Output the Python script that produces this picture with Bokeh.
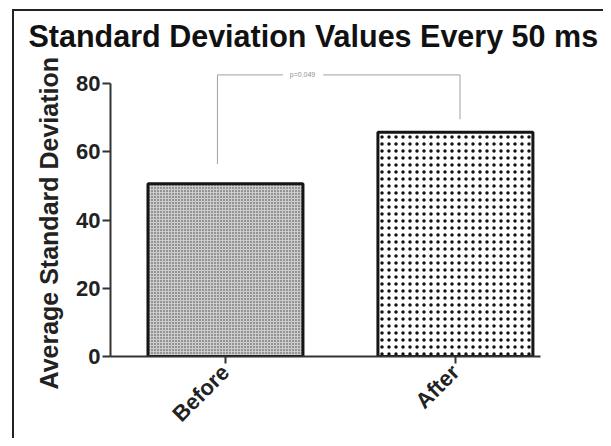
import math
from bokeh.plotting import figure
from bokeh.models import ColumnDataSource, FixedTicker, Range1d, Label, Title
from bokeh.embed import file_html
from bokeh.resources import INLINE

# ---- data ----
categories = ["Before", "After"]
values = [50.7, 65.8]
y_ticks = [0, 20, 40, 60, 80]
title_text = "Standard Deviation Values Every 50 ms"
y_label_text = "Average Standard Deviation"
p_text = "p=0.049"
bracket_heights = [56.5, 82.6, 69.6]   # left foot, top, right foot

FONT = "Liberation Sans"

xs = list(range(len(categories)))

p = figure(width=603, height=438, output_backend="svg", toolbar_location=None,
           x_range=Range1d(-0.5, 1.37), y_range=Range1d(0, 88),
           min_border_left=110, min_border_right=63, min_border_top=56, min_border_bottom=78)
p.outline_line_color = None
p.xgrid.visible = False
p.ygrid.visible = False
p.background_fill_color = "white"
p.border_fill_color = None
p.styles = {
    "background": "linear-gradient(#222,#222) 12px 9px / 1200px 2px no-repeat, "
                  "linear-gradient(#222,#222) 12px 9px / 2px 1200px no-repeat, white"
}

p.vbar(x=[xs[0]], top=[values[0]], width=0.674, fill_color="#cccccc", hatch_pattern=".",
       hatch_color="#404040", hatch_scale=3, hatch_weight=1, line_color="#151515", line_width=3)
p.vbar(x=[xs[1]], top=[values[1]], width=0.674, fill_color="white", hatch_pattern=".",
       hatch_color="#111111", hatch_scale=7, hatch_weight=3, line_color="#151515", line_width=3)

# significance bracket
xl = xs[0] - 0.035
xr = xs[1] + 0.02
xt = xs[0] + 0.335
src_b = ColumnDataSource(dict(
    x0=[xl, xl, xt + 0.09, xr],
    y0=[bracket_heights[0], bracket_heights[1], bracket_heights[1], bracket_heights[1]],
    x1=[xl, xt - 0.085, xr, xr],
    y1=[bracket_heights[1], bracket_heights[1], bracket_heights[1], bracket_heights[2]],
))
p.segment(x0="x0", y0="y0", x1="x1", y1="y1", source=src_b, line_color="#a0a0a0", line_width=1)
p.add_layout(Label(x=xt, y=bracket_heights[1], text=p_text, text_align="center",
                   text_baseline="middle", text_font=FONT, text_font_size="7px",
                   text_color="#909090"))

# title
p.title.text = title_text
p.title.align = "left"
p.title.offset = -82
p.title.standoff = 7
p.title.text_font = FONT
p.title.text_font_style = "bold"
p.title.text_font_size = "30.5px"
p.title.text_color = "#111111"

# axes
for ax in (p.xaxis[0], p.yaxis[0]):
    ax.axis_line_width = 2
    ax.axis_line_color = "#333333"
    ax.major_tick_line_width = 2
    ax.major_tick_line_color = "#333333"
    ax.minor_tick_line_color = None
    ax.major_tick_in = 0
    ax.major_label_text_font = FONT
    ax.major_label_text_font_style = "bold"
    ax.major_label_text_color = "#222222"
p.yaxis.ticker = FixedTicker(ticks=y_ticks)
p.yaxis.bounds = (y_ticks[0], y_ticks[-1])
p.yaxis.major_tick_out = 8
p.yaxis.major_label_standoff = 2
p.yaxis.major_label_text_font_size = "22px"
p.xaxis.ticker = FixedTicker(ticks=xs)
p.xaxis.major_label_overrides = {i: c for i, c in zip(xs, categories)}
p.xaxis.major_tick_out = 7
p.xaxis.major_label_orientation = math.pi / 4
p.xaxis.major_label_standoff = 5
p.xaxis.major_label_text_font_size = "22px"

# y-axis label as a left-side title (allows shifting along the axis)
p.add_layout(Title(text=y_label_text, align="left", offset=-33, standoff=21,
                   text_font=FONT, text_font_style="bold", text_font_size="25px",
                   text_color="#222222"), "left")

open("out.html", "w").write(file_html(p, INLINE))
